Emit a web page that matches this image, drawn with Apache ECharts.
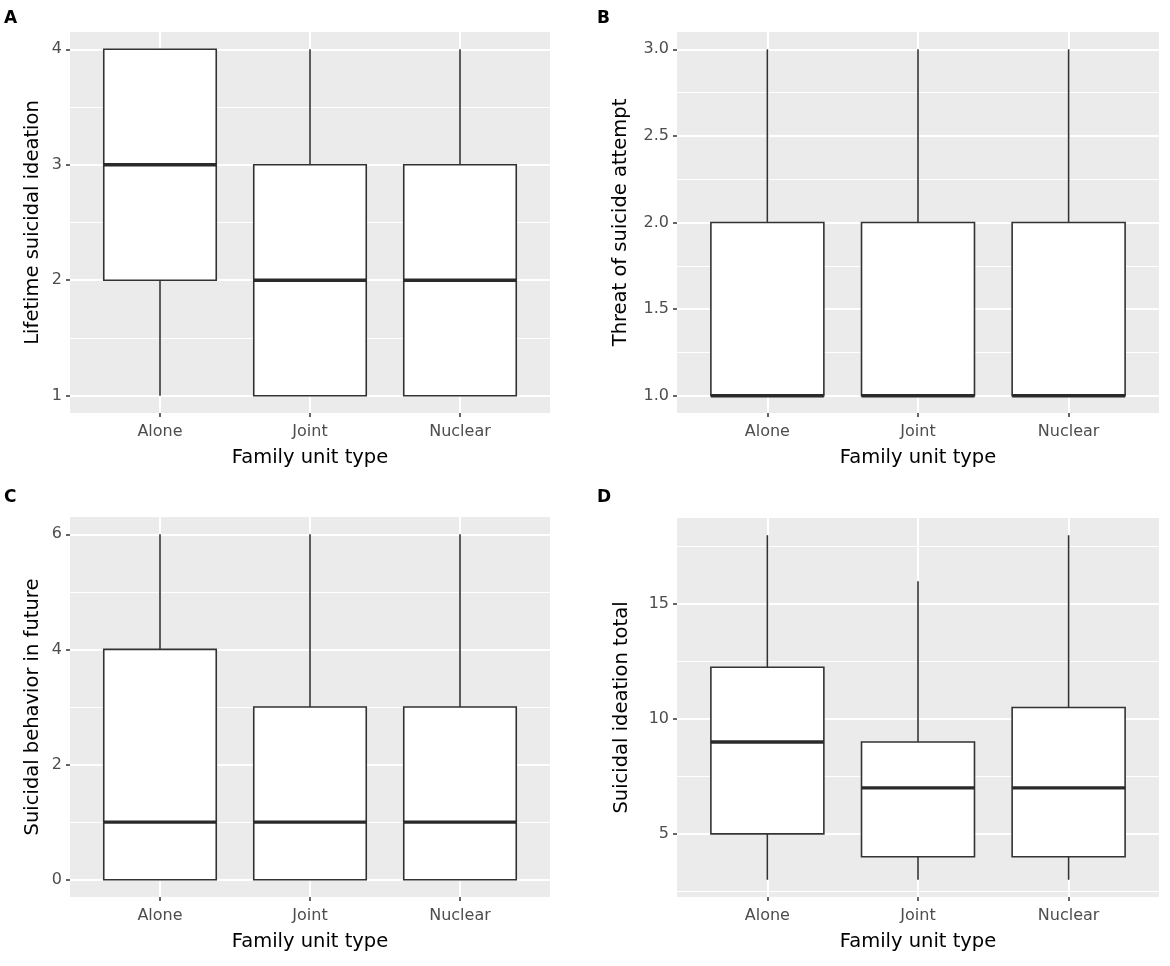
<!DOCTYPE html>
<html>
<head>
<meta charset="utf-8">
<script src="https://cdn.jsdelivr.net/npm/echarts@6/dist/echarts.min.js"></script>
<style>
html,body{margin:0;padding:0;background:#ffffff;}
#chart{width:1170px;height:966px;}
</style>
</head>
<body>
<div id="chart"></div>
<script>
// ---------- data ----------
const categories = ['Alone', 'Joint', 'Nuclear'];
// each row: [min (lower whisker), Q1, median, Q3, max (upper whisker)]
const lifetimeIdeation = [[1, 2, 3, 4, 4], [1, 1, 2, 3, 4], [1, 1, 2, 3, 4]];
const threatOfAttempt  = [[1, 1, 1, 2, 3], [1, 1, 1, 2, 3], [1, 1, 1, 2, 3]];
const futureBehavior   = [[0, 0, 1, 4, 6], [0, 0, 1, 3, 6], [0, 0, 1, 3, 6]];
const ideationTotal    = [[3, 5, 9, 12.25, 18], [3, 4, 7, 9, 16], [3, 4, 7, 10.5, 18]];

// tick labels (major) and minor grid positions
const ticksA = [1, 2, 3, 4];            const minorA = [1.5, 2.5, 3.5];
const ticksB = [1.0, 1.5, 2.0, 2.5, 3.0]; const minorB = [1.25, 1.75, 2.25, 2.75];
const ticksC = [0, 2, 4, 6];            const minorC = [1, 3, 5];
const ticksD = [5, 10, 15];             const minorD = [2.5, 7.5, 12.5, 17.5];

const xTitle = 'Family unit type';
const yTitles = ['Lifetime suicidal ideation', 'Threat of suicide attempt', 'Suicidal behavior in future', 'Suicidal ideation total'];
const panelLetters = ['A', 'B', 'C', 'D'];

// ---------- layout / style ----------
const FONT = 'DejaVu Sans';
const panels = [
  { stats: lifetimeIdeation, ticks: ticksA, minor: minorA, decimals: 0, grid: { left: 70,  top: 32,  width: 480, height: 381 }, nameGap: 27, letter: { left: 4,   top: 10 } },
  { stats: threatOfAttempt,  ticks: ticksB, minor: minorB, decimals: 1, grid: { left: 677, top: 32,  width: 482, height: 381 }, nameGap: 46, letter: { left: 597, top: 10 } },
  { stats: futureBehavior,   ticks: ticksC, minor: minorC, decimals: 0, grid: { left: 70,  top: 517, width: 480, height: 380 }, nameGap: 27, letter: { left: 4,   top: 489 } },
  { stats: ideationTotal,    ticks: ticksD, minor: minorD, decimals: 0, grid: { left: 677, top: 518, width: 482, height: 379 }, nameGap: 45, letter: { left: 597, top: 489 } }
];

const BOX_COLOR = '#333333';
const HALF_BOX = 0.375; // ggplot default box width 0.75 of category spacing

function renderBox(params, api) {
  const x = api.value(0);
  const mn = api.value(1), q1 = api.value(2), md = api.value(3), q3 = api.value(4), mx = api.value(5);
  const pMin = api.coord([x, mn]);
  const pQ1 = api.coord([x, q1]);
  const pMd = api.coord([x, md]);
  const pQ3 = api.coord([x, q3]);
  const pMax = api.coord([x, mx]);
  const left = api.coord([x - HALF_BOX, md])[0];
  const right = api.coord([x + HALF_BOX, md])[0];
  const children = [];
  if (mn < q1) children.push({ type: 'line', shape: { x1: pMin[0], y1: pMin[1], x2: pQ1[0], y2: pQ1[1] }, style: { stroke: BOX_COLOR, lineWidth: 1.6 } });
  if (mx > q3) children.push({ type: 'line', shape: { x1: pQ3[0], y1: pQ3[1], x2: pMax[0], y2: pMax[1] }, style: { stroke: BOX_COLOR, lineWidth: 1.6 } });
  children.push({ type: 'rect', shape: { x: left, y: pQ3[1], width: right - left, height: pQ1[1] - pQ3[1] }, style: { fill: '#ffffff', stroke: BOX_COLOR, lineWidth: 1.6 } });
  children.push({ type: 'line', shape: { x1: left, y1: pMd[1], x2: right, y2: pMd[1] }, style: { stroke: '#2a2a2a', lineWidth: 3.4 } });
  return { type: 'group', children: children };
}

const option = {
  animation: false,
  backgroundColor: '#ffffff',
  title: [],
  grid: [],
  xAxis: [],
  yAxis: [],
  series: []
};

panels.forEach(function (p, i) {
  let lo = Infinity, hi = -Infinity;
  p.stats.forEach(function (r) { lo = Math.min(lo, r[0]); hi = Math.max(hi, r[4]); });
  const pad = (hi - lo) * 0.05;

  option.title.push({
    text: panelLetters[i], left: p.letter.left, top: p.letter.top, padding: 0,
    textStyle: { fontFamily: FONT, fontWeight: 'bold', fontSize: 17, color: '#000000' }
  });

  option.grid.push(Object.assign({
    show: true, backgroundColor: '#EBEBEB', borderWidth: 0, containLabel: false, outerBoundsMode: 'none'
  }, p.grid));

  option.xAxis.push({
    type: 'value', gridIndex: i, min: -0.6, max: categories.length - 1 + 0.6,
    name: xTitle, nameLocation: 'middle', nameGap: 35, nameMoveOverlap: false,
    nameTextStyle: { fontFamily: FONT, fontSize: 19.5, color: '#000000' },
    axisLine: { show: true, onZero: false, lineStyle: { color: 'rgba(0,0,0,0)' } },
    axisTick: { show: true, inside: false, length: 4, customValues: categories.map(function (c, k) { return k; }), lineStyle: { color: '#333333', width: 1.5 } },
    axisLabel: { customValues: categories.map(function (c, k) { return k; }), margin: 11, fontFamily: FONT, fontSize: 16, color: '#4D4D4D',
      formatter: function (v) { return categories[Math.round(v)] || ''; } },
    splitLine: { show: false },
    minorSplitLine: { show: false }
  });

  option.yAxis.push({
    type: 'value', gridIndex: i, min: lo - pad, max: hi + pad,
    name: yTitles[i], nameLocation: 'middle', nameGap: p.nameGap, nameMoveOverlap: false,
    nameTextStyle: { fontFamily: FONT, fontSize: 19.5, color: '#000000' },
    axisLine: { show: true, onZero: false, lineStyle: { color: 'rgba(0,0,0,0)' } },
    axisTick: { show: true, inside: false, length: 4, customValues: p.ticks, lineStyle: { color: '#333333', width: 1.5 } },
    axisLabel: { customValues: p.ticks, margin: 8, fontFamily: FONT, fontSize: 16, color: '#4D4D4D',
      formatter: (function (dec) { return function (v) { return v.toFixed(dec); }; })(p.decimals) },
    splitLine: { show: false },
    minorSplitLine: { show: false }
  });

  const gridLines = []
    .concat(p.ticks.map(function (v) { return { yAxis: v, lineStyle: { color: '#ffffff', width: 2, type: 'solid' } }; }))
    .concat(p.minor.map(function (v) { return { yAxis: v, lineStyle: { color: '#ffffff', width: 1, type: 'solid' } }; }))
    .concat(categories.map(function (c, k) { return { xAxis: k, lineStyle: { color: '#ffffff', width: 2, type: 'solid' } }; }));

  option.series.push({
    type: 'custom', xAxisIndex: i, yAxisIndex: i, z: 3,
    renderItem: renderBox,
    encode: { x: 0, y: [1, 2, 3, 4, 5] },
    data: p.stats.map(function (r, k) { return [k].concat(r); }),
    silent: true,
    markLine: {
      silent: true, z: 1, symbol: ['none', 'none'], animation: false,
      label: { show: false },
      emphasis: { disabled: true },
      data: gridLines
    }
  });
});

const chart = echarts.init(document.getElementById('chart'), null, { renderer: 'canvas' });
chart.setOption(option);
</script>
</body>
</html>
